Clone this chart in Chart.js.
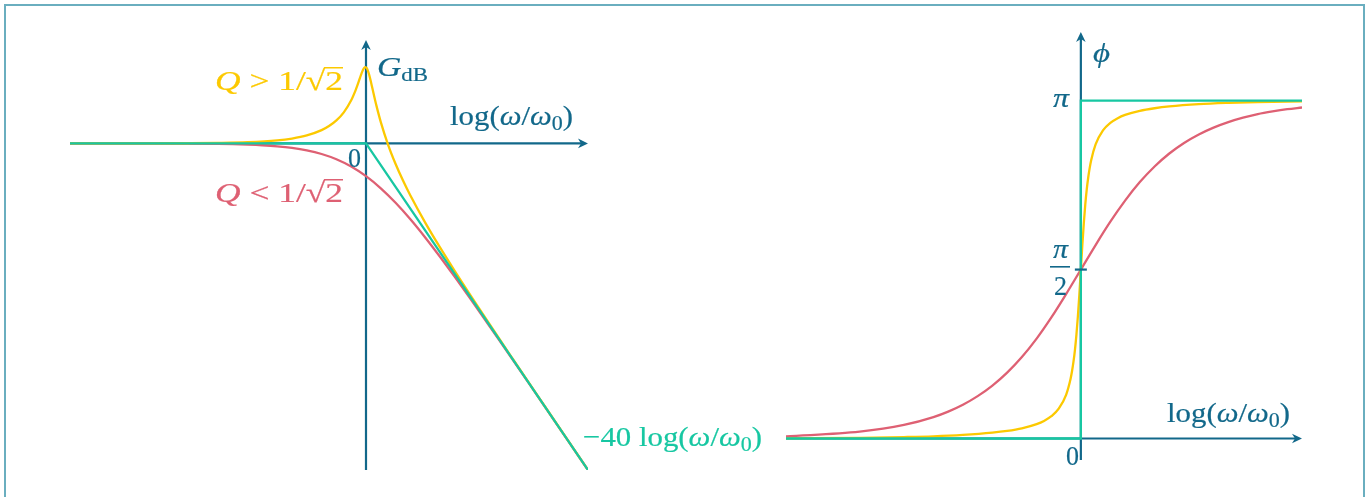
<!DOCTYPE html>
<html><head><meta charset="utf-8">
<script src="https://cdn.jsdelivr.net/npm/chart.js@4.4.1/dist/chart.umd.min.js"></script>
<style>
html,body{margin:0;padding:0;background:#fff;overflow:hidden;width:1369px;height:497px;}
#frame{position:absolute;left:4px;top:4px;width:1357px;height:600px;border:2px solid #6aaebf;}
#gain{position:absolute;left:0;top:0;}
#phase{position:absolute;left:700px;top:0;}
</style></head><body>
<div id="frame"></div>
<canvas id="gain" width="780" height="497"></canvas>
<canvas id="phase" width="669" height="497"></canvas>
<script>
// x = log10(omega/omega0)
const uHighQ = [-2,-1.5,-1.2,-1,-0.8,-0.6,-0.5,-0.4,-0.3,-0.25,-0.2,-0.15,-0.1,-0.07,-0.06,-0.05,-0.04,-0.03,-0.02,-0.01,-0.005,0,0.005,0.01,0.02,0.03,0.04,0.05,0.06,0.07,0.1,0.15,0.2,0.25,0.3,0.4,0.5,0.6,0.8,1.0,1.2,1.5];
const gainHighQ = [0.001,0.009,0.034,0.086,0.216,0.554,0.894,1.460,2.435,3.186,4.223,5.705,7.920,9.792,10.524,11.303,12.106,12.883,13.544,13.955,14.022,13.979,13.822,13.555,12.744,11.683,10.506,9.303,8.124,6.992,3.920,-0.295,-3.777,-6.814,-9.565,-14.540,-19.106,-23.446,-31.783,-39.915,-47.965,-59.991];
const phaseHighQ = [0.002,0.006,0.013,0.020,0.033,0.054,0.070,0.094,0.133,0.163,0.207,0.277,0.406,0.553,0.625,0.714,0.825,0.966,1.139,1.344,1.456,1.571,1.685,1.797,2.002,2.176,2.316,2.427,2.516,2.588,2.735,2.865,2.935,2.979,3.009,3.047,3.071,3.088,3.109,3.121,3.129,3.135];

const uLowQ = [-2,-1.5,-1.2,-1,-0.9,-0.8,-0.7,-0.6,-0.5,-0.4,-0.3,-0.2,-0.1,0,0.1,0.2,0.3,0.4,0.5,0.6,0.7,0.8,0.9,1.0,1.1,1.2,1.3,1.4,1.5];
const gainLowQ = [-0.001,-0.009,-0.035,-0.086,-0.137,-0.216,-0.339,-0.532,-0.828,-1.279,-1.946,-2.911,-4.250,-6.021,-8.249,-10.911,-13.947,-17.278,-20.828,-24.531,-28.340,-32.216,-36.137,-40.086,-44.054,-48.035,-52.021,-56.014,-60.009];
const phaseLowQ = [0.020,0.063,0.126,0.199,0.250,0.314,0.394,0.492,0.613,0.758,0.929,1.126,1.343,1.571,1.799,2.016,2.212,2.384,2.529,2.650,2.748,2.827,2.891,2.942,2.983,3.016,3.041,3.062,3.078];

const uAsymptote = [-2, 0, 1.5];
const gainAsymptote = [0, 0, -60];
const uPhaseStep = [-2, 0, 0, 1.5];
const phaseStep = [0, 0, 3.1416, 3.1416];
const phaseTickValues = [1.5708];

const AXIS = '#12688a';
const YEL = '#fcc900';
const RED = '#de6073';
const GRN = '#17c7a2';
const SERIF = '"Liberation Serif","DejaVu Serif",serif';
const FS = 28;

function pts(xs, ys){ return xs.map((x,i)=>({x:x, y:ys[i]})); }

function drawRuns(ctx, runs, left, right, base, color){
  ctx.save();
  ctx.fillStyle = color; ctx.strokeStyle = color; ctx.lineWidth = 0.2;
  ctx.textBaseline = 'alphabetic'; ctx.textAlign = 'left';
  let w = 0;
  for (const r of runs){ ctx.font = (r.it?'italic ':'') + r.s + 'px ' + SERIF; r.w = ctx.measureText(r.t).width; w += r.w; }
  const sx = (right-left)/w;
  ctx.translate(left, base); ctx.scale(sx, 1);
  let cx = 0;
  for (const r of runs){
    ctx.font = (r.it?'italic ':'') + r.s + 'px ' + SERIF;
    ctx.fillText(r.t, cx, r.dy||0);
    ctx.strokeText(r.t, cx, r.dy||0);
    if (r.over) ctx.fillRect(cx-1, -r.over, r.w+1, 1.5);
    cx += r.w;
  }
  ctx.restore();
}
function arrow(ctx, tx, ty, dir){
  ctx.save(); ctx.translate(tx, ty);
  if (dir==='up') ctx.rotate(-Math.PI/2);
  ctx.beginPath(); ctx.moveTo(0,0); ctx.lineTo(-10,-4.8); ctx.lineTo(-7,0); ctx.lineTo(-10,4.8); ctx.closePath();
  ctx.fillStyle = AXIS; ctx.fill(); ctx.restore();
}
function logRuns(prefix, s){
  return [{t:prefix+'log(',s:s},{t:'ω',it:1,s:s},{t:'/',s:s},{t:'ω',it:1,s:s},{t:'0',s:Math.round(s*0.7),dy:5},{t:')',s:s}];
}

function makeAxesPlugin(offsetX, drawLabels){
  return {
    id: 'axes',
    beforeDatasetsDraw(chart){
      const {ctx, chartArea:a, scales:{x, y}} = chart;
      const ox = x.getPixelForValue(0), oy = y.getPixelForValue(0);
      ctx.save(); ctx.strokeStyle = AXIS; ctx.lineWidth = 2.2;
      ctx.beginPath(); ctx.moveTo(a.left, oy); ctx.lineTo(a.right-6, oy); ctx.stroke();
      ctx.beginPath(); ctx.moveTo(ox, a.bottom); ctx.lineTo(ox, a.top+6); ctx.stroke();
      arrow(ctx, a.right, oy, 'right'); arrow(ctx, ox, a.top, 'up');
      ctx.restore();
    },
    afterDatasetsDraw(chart){
      const {ctx} = chart;
      ctx.save(); ctx.translate(-offsetX, 0);
      drawLabels(chart, ctx);
      ctx.restore();
    }
  };
}

function baseOptions(ymin, ymax, pad){
  return {
    responsive:false, animation:false, devicePixelRatio:1,
    layout:{padding:pad},
    plugins:{legend:{display:false}, tooltip:{enabled:false}},
    elements:{point:{radius:0}, line:{borderWidth:2.3}},
    scales:{
      x:{type:'linear', min:-2, max:1.5, display:false},
      y:{type:'linear', min:ymin, max:ymax, display:false}
    }
  };
}

new Chart(document.getElementById('gain'), {
  type:'line',
  data:{datasets:[
    {data:pts(uAsymptote, gainAsymptote), borderColor:GRN, tension:0, order:0},
    {data:pts(uHighQ, gainHighQ), borderColor:YEL, cubicInterpolationMode:'monotone', order:1},
    {data:pts(uLowQ, gainLowQ), borderColor:RED, cubicInterpolationMode:'monotone', order:2}
  ]},
  options: baseOptions(-60, 19, {left:70, right:192, top:40, bottom:27}),
  plugins:[makeAxesPlugin(0, (chart, ctx)=>{
    drawRuns(ctx, [{t:'Q',it:1,s:FS},{t:' > 1/',s:FS},{t:'√',s:FS},{t:'2',s:FS,over:23}], 215, 343, 90, YEL);
    drawRuns(ctx, [{t:'Q',it:1,s:FS},{t:' < 1/',s:FS},{t:'√',s:FS},{t:'2',s:FS,over:23}], 215, 343, 202, RED);
    drawRuns(ctx, [{t:'0',s:FS}], 348, 361, 167, AXIS);
    drawRuns(ctx, [{t:'G',it:1,s:FS},{t:'dB',s:19,dy:5}], 377, 428, 76, AXIS);
    drawRuns(ctx, logRuns('',FS), 450, 573, 125, AXIS);
    drawRuns(ctx, logRuns('−40 ',FS), 583, 762, 446, GRN);
  })]
});

new Chart(document.getElementById('phase'), {
  type:'line',
  data:{datasets:[
    {data:pts(uPhaseStep, phaseStep), borderColor:GRN, tension:0, order:0},
    {data:pts(uHighQ, phaseHighQ), borderColor:YEL, cubicInterpolationMode:'monotone', order:1},
    {data:pts(uLowQ, phaseLowQ), borderColor:RED, cubicInterpolationMode:'monotone', order:2}
  ]},
  options: baseOptions(-0.2, 3.78, {left:86, right:67, top:32, bottom:37}),
  plugins:[makeAxesPlugin(700, (chart, ctx)=>{
    const x = chart.scales.x, y = chart.scales.y;
    const ox = x.getPixelForValue(0) + 700;
    ctx.strokeStyle = AXIS; ctx.lineWidth = 2.2;
    for (const v of phaseTickValues){
      const py = y.getPixelForValue(v);
      ctx.beginPath(); ctx.moveTo(ox-6, py); ctx.lineTo(ox+6, py); ctx.stroke();
    }
    drawRuns(ctx, [{t:'ϕ',it:1,s:FS}], 1093, 1110, 62, AXIS);
    drawRuns(ctx, [{t:'π',it:1,s:FS}], 1053, 1069, 107, AXIS);
    drawRuns(ctx, [{t:'π',it:1,s:FS}], 1053, 1068, 258, AXIS);
    ctx.fillStyle = AXIS; ctx.fillRect(1050, 266, 20, 1.6);
    drawRuns(ctx, [{t:'2',s:FS}], 1054, 1067, 295, AXIS);
    drawRuns(ctx, [{t:'0',s:FS}], 1066, 1079, 465, AXIS);
    drawRuns(ctx, logRuns('',FS), 1167, 1290, 422, AXIS);
  })]
});
</script>
</body></html>
